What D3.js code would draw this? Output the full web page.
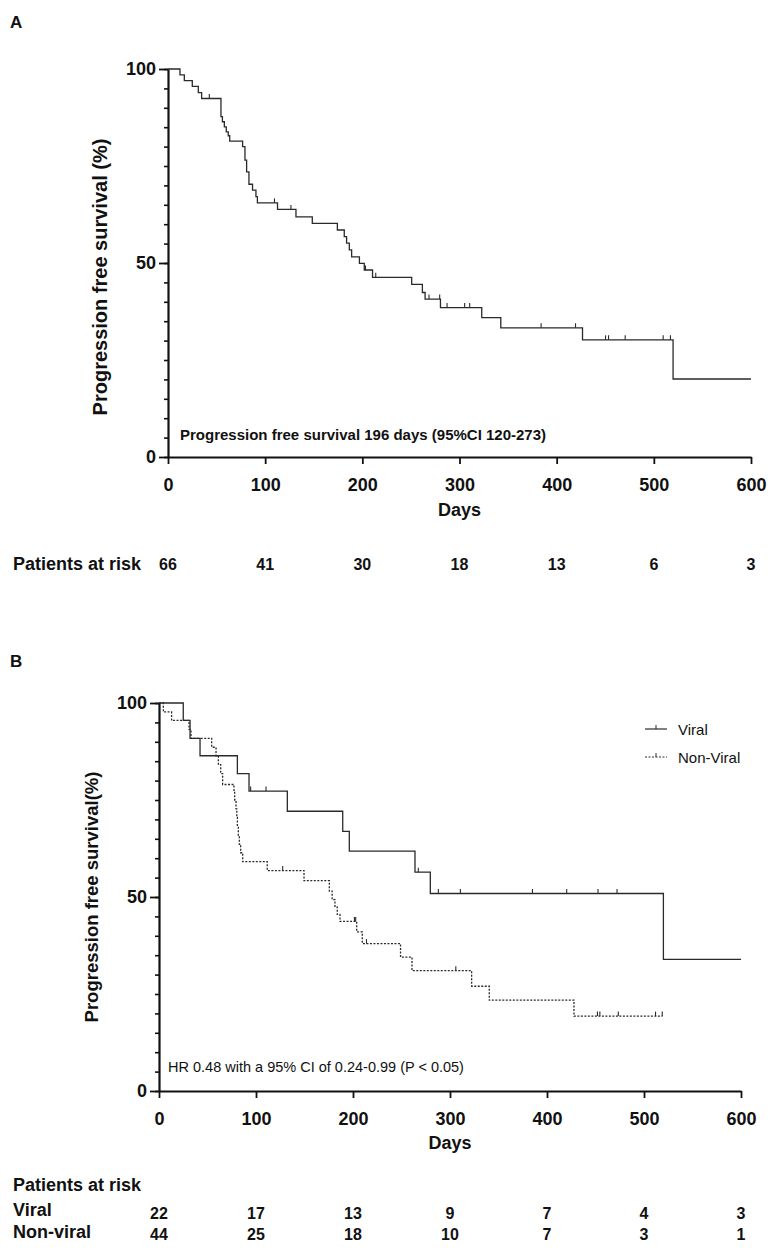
<!DOCTYPE html>
<html>
<head>
<meta charset="utf-8">
<script src="https://cdn.jsdelivr.net/npm/d3@7"></script>
<style>
  html, body { margin: 0; padding: 0; background: #fff; }
  svg { display: block; }
  text { font-family: "Liberation Sans", Arial, Helvetica, sans-serif; fill: #111; }
</style>
</head>
<body>
<svg id="chart" width="778" height="1255"></svg>
<script>
// ---------------- DATA ----------------
const xTicks = [0, 100, 200, 300, 400, 500, 600];
const yMajorTicks = [0, 50, 100];
const yMinorTicks = d3.range(0, 101, 5);

// Panel A: all patients (step times in days, survival % after each step)
const aTimes = [12.3, 16.8, 25, 31.2, 34.6, 54.5, 56, 58, 60, 62, 63.5, 76.8, 79.2, 80.9, 83.3, 87, 90.5, 92,
                112.7, 131.7, 148.5, 174.3, 181.4, 183.8, 186.6, 189, 197, 202, 210.5, 250.8, 261.8, 264.6,
                280.4, 322.9, 342.5, 426.6, 519.8];
const aSurv  = [98.5, 97.0, 95.5, 93.9, 92.4, 87.7, 86.4, 85.1, 83.8, 82.8, 81.4, 80.0, 76.5, 73.5, 70.3, 68.8, 67.1, 65.5,
                63.8, 61.9, 60.2, 58.5, 56.8, 55.1, 53.4, 51.6, 49.9, 48.2, 46.3, 44.5, 42.4, 40.7,
                38.5, 35.9, 33.3, 30.2, 20.1];
const aCensor = [42.5, 109.6, 126.5, 203.3, 213.8, 268.6, 279.6, 287.2, 305.3, 310.5, 384, 419.4,
                 450.3, 453.4, 470.5, 509.6, 517.1];
const aEnd = 600;

// Panel B: viral
const viralTimes = [25, 32, 42.3, 80.8, 92.8, 132.3, 189.4, 196.2, 263.9, 279.7, 520];
const viralSurv  = [95.5, 90.9, 86.4, 81.8, 77.3, 72.1, 66.9, 61.8, 56.4, 50.9, 33.9];
const viralCensor = [94.5, 110.3, 267.3, 288, 310.7, 385, 420.3, 452.6, 472.2];
const viralEnd = 600;

// Panel B: non-viral
const nonViralTimes = [4.5, 13, 31, 33, 54.3, 58.8, 61.2, 63.6, 65.6, 77.3, 78, 79.4, 80.2, 80.8, 81.8, 82.8, 84.2, 86.3,
                       111.6, 149.5, 175.6, 178.5, 181.4, 183.8, 186.6, 203.8, 209.6, 249, 260.8, 322.3, 340.5, 427.8];
const nonViralSurv  = [97.7, 95.5, 93.2, 90.9, 88.6, 86.4, 84.1, 81.8, 79.0, 77.3, 75.0, 72.7, 70.5, 68.2, 65.9, 63.6, 61.4, 59.1,
                       56.8, 54.2, 51.5, 49.3, 47.4, 45.5, 43.7, 41.0, 38.0, 34.5, 31.0, 27.0, 23.4, 19.3];
const nonViralCensor = [127.5, 201.5, 202.8, 213.9, 306, 452, 454.5, 473.5, 511.9, 518.8];
const nonViralEnd = 519.2;

// Patients at risk
const riskTimes = [0, 100, 200, 300, 400, 500, 600];
const riskAll = [66, 41, 30, 18, 13, 6, 3];
const riskViral = [22, 17, 13, 9, 7, 4, 3];
const riskNonViral = [44, 25, 18, 10, 7, 3, 1];

// ---------------- DRAWING ----------------
const svg = d3.select("#chart");
const LINE = "#2a2a2a";

function stepPoints(times, surv, end) {
  const pts = [[0, 100]];
  times.forEach((t, i) => pts.push([t, surv[i]]));
  pts.push([end, surv[surv.length - 1]]);
  return pts;
}
function survAt(times, surv, t) {
  let v = 100;
  times.forEach((tt, i) => { if (tt <= t) v = surv[i]; });
  return v;
}

function drawAxes(g, x, y, o) {
  // minor y ticks
  g.append("g").attr("transform", `translate(${x.range()[0]},0)`)
    .call(d3.axisLeft(y).tickValues(yMinorTicks).tickSize(4).tickFormat(""))
    .call(s => s.select(".domain").remove())
    .call(s => s.selectAll("line").attr("stroke", "#111").attr("stroke-width", 1.6));
  // major y ticks + labels
  g.append("g").attr("transform", `translate(${x.range()[0]},0)`)
    .call(d3.axisLeft(y).tickValues(yMajorTicks).tickSize(9).tickSizeOuter(0).tickPadding(3))
    .call(s => s.select(".domain").attr("stroke", "#111").attr("stroke-width", 2.2))
    .call(s => s.selectAll("line").attr("stroke", "#111").attr("stroke-width", 1.8))
    .call(s => s.selectAll("text").attr("font-size", o.tickFont).attr("font-weight", "bold")
      .attr("font-family", "Liberation Sans, Arial, sans-serif").attr("fill", "#111"));
  // x axis
  g.append("g").attr("transform", `translate(0,${y(0)})`)
    .call(d3.axisBottom(x).tickValues(xTicks).tickSize(7).tickSizeOuter(0).tickPadding(o.xPad))
    .call(s => s.select(".domain").attr("stroke", "#111").attr("stroke-width", 2.2))
    .call(s => s.selectAll("line").attr("stroke", "#111").attr("stroke-width", 1.8))
    .call(s => s.selectAll("text").attr("font-size", o.tickFont).attr("font-weight", "bold")
      .attr("font-family", "Liberation Sans, Arial, sans-serif").attr("fill", "#111"));
}

function drawCurve(g, x, y, times, surv, end, censor, dash) {
  const line = d3.line().x(d => x(d[0])).y(d => y(d[1])).curve(d3.curveStepAfter);
  g.append("path").datum(stepPoints(times, surv, end))
    .attr("d", line).attr("fill", "none").attr("stroke", LINE)
    .attr("stroke-width", 1.3).attr("stroke-dasharray", dash || null);
  g.selectAll(null).data(censor).enter().append("line")
    .attr("x1", d => x(d)).attr("x2", d => x(d))
    .attr("y1", d => y(survAt(times, surv, d)))
    .attr("y2", d => y(survAt(times, surv, d)) - 4.5)
    .attr("stroke", LINE).attr("stroke-width", 1.1);
}

// ---- Panel A ----
const xA = d3.scaleLinear().domain([0, 600]).range([168, 751]);
const yA = d3.scaleLinear().domain([0, 100]).range([457, 69]);
const gA = svg.append("g");
gA.append("text").attr("x", 10).attr("y", 28).attr("font-size", 17).attr("font-weight", "bold").text("A");
drawCurve(gA, xA, yA, aTimes, aSurv, aEnd, aCensor, null);
drawAxes(gA, xA, yA, { tickFont: 18, xPad: 14 });
gA.append("text").attr("transform", `translate(107,${(yA(0) + yA(100)) / 2 + 14}) rotate(-90)`)
  .attr("text-anchor", "middle").attr("font-size", 20).attr("font-weight", "bold")
  .text("Progression free survival (%)");
gA.append("text").attr("x", (xA(0) + xA(600)) / 2).attr("y", 516).attr("text-anchor", "middle")
  .attr("font-size", 18).attr("font-weight", "bold").text("Days");
gA.append("text").attr("x", 180).attr("y", 440).attr("font-size", 15).attr("font-weight", "bold")
  .text("Progression free survival 196 days (95%CI 120-273)");
gA.append("text").attr("x", 13).attr("y", 570).attr("font-size", 18).attr("font-weight", "bold").text("Patients at risk");
gA.selectAll(null).data(riskAll).enter().append("text")
  .attr("x", (d, i) => xA(riskTimes[i])).attr("y", 570).attr("text-anchor", "middle")
  .attr("font-size", 16).attr("font-weight", "bold").text(d => d);

// ---- Panel B ----
const xB = d3.scaleLinear().domain([0, 600]).range([159, 741]);
const yB = d3.scaleLinear().domain([0, 100]).range([1091, 703]);
const gB = svg.append("g");
gB.append("text").attr("x", 10).attr("y", 667).attr("font-size", 17).attr("font-weight", "bold").text("B");
drawCurve(gB, xB, yB, viralTimes, viralSurv, viralEnd, viralCensor, null);
drawCurve(gB, xB, yB, nonViralTimes, nonViralSurv, nonViralEnd, nonViralCensor, "2,1.5");
drawAxes(gB, xB, yB, { tickFont: 18, xPad: 14 });
gB.append("text").attr("transform", `translate(98,${(yB(0) + yB(100)) / 2}) rotate(-90)`)
  .attr("text-anchor", "middle").attr("font-size", 18.5).attr("font-weight", "bold")
  .text("Progression free survival(%)");
gB.append("text").attr("x", (xB(0) + xB(600)) / 2).attr("y", 1149).attr("text-anchor", "middle")
  .attr("font-size", 18).attr("font-weight", "bold").text("Days");
gB.append("text").attr("x", 168).attr("y", 1072).attr("font-size", 14.5)
  .text("HR 0.48 with a 95% CI of 0.24-0.99 (P < 0.05)");

// legend
const legend = [
  { name: "Viral", dash: null, y: 729 },
  { name: "Non-Viral", dash: "2,1.5", y: 757 }
];
legend.forEach(l => {
  gB.append("line").attr("x1", 645).attr("x2", 667).attr("y1", l.y).attr("y2", l.y)
    .attr("stroke", LINE).attr("stroke-width", 1.2).attr("stroke-dasharray", l.dash);
  gB.append("line").attr("x1", 656).attr("x2", 656).attr("y1", l.y).attr("y2", l.y - 4)
    .attr("stroke", LINE).attr("stroke-width", 1);
  gB.append("text").attr("x", 678).attr("y", l.y + 5.5).attr("font-size", 15).text(l.name);
});

// risk table
gB.append("text").attr("x", 13).attr("y", 1191).attr("font-size", 18).attr("font-weight", "bold").text("Patients at risk");
gB.append("text").attr("x", 13).attr("y", 1216).attr("font-size", 18).attr("font-weight", "bold").text("Viral");
gB.append("text").attr("x", 13).attr("y", 1238).attr("font-size", 18).attr("font-weight", "bold").text("Non-viral");
gB.selectAll(null).data(riskViral).enter().append("text")
  .attr("x", (d, i) => xB(riskTimes[i])).attr("y", 1219).attr("text-anchor", "middle")
  .attr("font-size", 16).attr("font-weight", "bold").text(d => d);
gB.selectAll(null).data(riskNonViral).enter().append("text")
  .attr("x", (d, i) => xB(riskTimes[i])).attr("y", 1240).attr("text-anchor", "middle")
  .attr("font-size", 16).attr("font-weight", "bold").text(d => d);
</script>
</body>
</html>
